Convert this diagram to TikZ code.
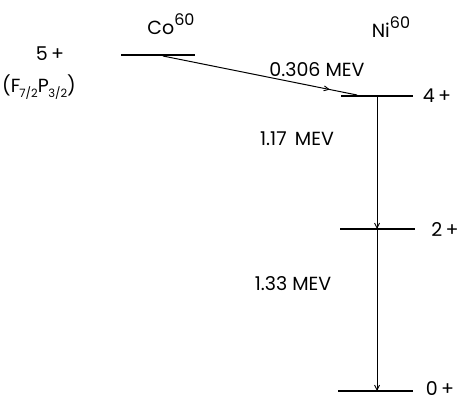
\documentclass[tikz,border=0pt]{standalone}
\usepackage{fontspec}
\setmainfont{Poppins}
\usetikzlibrary{arrows.meta,decorations.markings}
\newcommand{\supr}[1]{\raisebox{0.45em}{\fontsize{16}{18}\selectfont #1}}
\newcommand{\subr}[1]{\raisebox{-0.3em}{\fontsize{11.5}{13}\selectfont #1}}
\begin{document}
\begin{tikzpicture}[x=1pt,y=-1pt,
  level/.style={line width=1.7pt},
  trans/.style={line width=1pt},
  lbl/.style={font=\fontsize{19}{21}\selectfont, inner sep=0pt},
  tip/.style={-{Straight Barb[length=5pt,width=5pt,line width=0.9pt]}},
  midtip/.style={postaction={decorate},decoration={markings,
     mark=at position 0.86 with {\arrow{Straight Barb[length=5pt,width=5pt,line width=0.9pt]}}}}]
\useasboundingbox (0,0) rectangle (465,400);
% levels
\coordinate (coL) at (121,55); \coordinate (coR) at (195,55);
\coordinate (n4L) at (341,96); \coordinate (n4R) at (413,96);
\coordinate (n2L) at (340,229); \coordinate (n2R) at (415,229);
\coordinate (n0L) at (338,391); \coordinate (n0R) at (413,391);
\draw[level] (coL) -- (coR);
\draw[level] (n4L) -- (n4R);
\draw[level] (n2L) -- (n2R);
\draw[level] (n0L) -- (n0R);
% transitions
\coordinate (ca) at (163,56); \coordinate (cb) at (357,95);
\draw[trans,midtip] (ca) -- (cb);
\coordinate (v4) at (377,96); \coordinate (v2) at (377,229); \coordinate (v0) at (377,391);
\draw[trans,tip] (v4) -- (v2);
\draw[trans,tip] (v2) -- (v0);
% labels
\node[lbl] (co) at (171,24) {Co\supr{60}};
\node[lbl] (ni) at (391,27) {Ni\supr{60}};
\node[lbl] (s5) at (50,54) {5\,+};
\node[lbl] (fp) at (39,87) {(F\kern-1pt\subr{7/2}P\kern-0.5pt\subr{3/2})};
\node[lbl] (e1) at (317,70) {0.306 MEV};
\node[lbl] (s4) at (437,96) {4\,+};
\node[lbl] (e2) at (297,139) {1.17\, MEV};
\node[lbl] (s2) at (445,229) {2\,+};
\node[lbl] (e3) at (293,284) {1.33 MEV};
\node[lbl,anchor=base] (s0) at (440,395) {0\,+};
\end{tikzpicture}
\end{document}
